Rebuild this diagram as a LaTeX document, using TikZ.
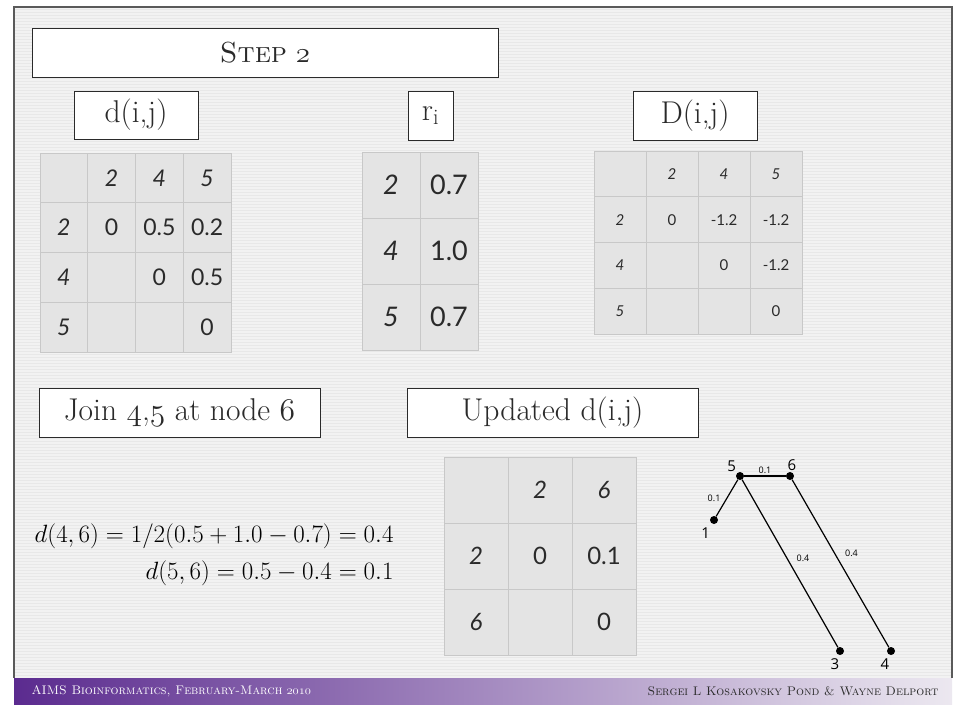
\RequirePackage{fix-cm}
\documentclass[tikz,border=0pt]{standalone}
\usepackage{fontspec}
\newfontfamily\tabfont{Lato}
\newfontfamily\treefont{Open Sans}
\usetikzlibrary{positioning}

\definecolor{slidebg}{HTML}{F2F2F2}
\definecolor{stripe}{HTML}{E8E8E8}
\definecolor{cellfill}{HTML}{E4E4E4}
\definecolor{cellline}{HTML}{C8C8C8}
\definecolor{inkgray}{HTML}{2A2A2A}
\definecolor{framegray}{HTML}{5A5A5A}
\definecolor{bandpurple}{HTML}{5B2B8F}
\definecolor{bandmid}{HTML}{B9A3CF}
\definecolor{bandlight}{HTML}{ECE8F0}

% old-style digits from the math italic font
\newcommand\osf[1]{$\mathnormal{#1}$}

\tikzset{
  titlebox/.style={draw=inkgray, fill=white, line width=1pt, inner sep=0pt,
    text=inkgray, font=\fontsize{31.5}{36}\selectfont},
  cell/.style={draw=cellline, fill=cellfill, line width=1pt, inner sep=0pt},
  celltxt/.style={text=inkgray, inner sep=0pt},
  leaf/.style={circle, fill=black, inner sep=0pt, minimum size=8pt},
  edge/.style={line width=1.2pt},
  treelab/.style={font=\treefont\fontsize{15}{15}\selectfont, inner sep=1pt},
  elab/.style={font=\treefont\fontsize{9}{9}\selectfont, inner sep=1pt},
}

\begin{document}
\begin{tikzpicture}[x=1pt, y=-1pt]
  \useasboundingbox (0,0) rectangle (957,704);
  % slide background
  \fill[white] (0,0) rectangle (957,704);
  \fill[slidebg] (14,7) rectangle (952,678);
  \foreach \y in {9,12,...,677}
    \draw[stripe, line width=1pt] (15,\y) -- (951,\y);
  \draw[framegray, line width=1.5pt] (14,678) -- (14,7) -- (952,7) -- (952,678);
  \shade[left color=bandpurple, middle color=bandmid, right color=bandlight]
    (14,678) rectangle (952,704);
  \node[anchor=west, text=white, font=\fontsize{12.5}{14}\selectfont] (foot-l) at (28,691)
    {\textsc{AIMS Bioinformatics, February-March} \osf{2010}};
  \node[anchor=east, text=inkgray, font=\fontsize{12.5}{14}\selectfont] (foot-r) at (942,691)
    {\textsc{Sergei L Kosakovsky Pond \& Wayne Delport}};

  % title boxes
  \node[titlebox, minimum width=466pt, minimum height=49pt, font=\fontsize{29}{34}\selectfont] (step) at (265,52.5) {\textsc{Step} \osf{2}};
  \node[titlebox, minimum width=124pt, minimum height=48pt] (dij) at (136,115) {d(i,j)};
  \node[titlebox, minimum width=45pt, minimum height=49pt] (ri) at (430.5,115.5) {r\textsubscript{i}};
  \node[titlebox, minimum width=124pt, minimum height=49pt] (Dij) at (695,115.5) {D(i,j)};
  \node[titlebox, minimum width=281pt, minimum height=49pt] (join) at (179.5,412.5) {Join \osf{4},\osf{5} at node \osf{6}};
  \node[titlebox, minimum width=291pt, minimum height=49pt] (upd) at (552.5,412.5) {Updated d(i,j)};

  % d(i,j) table
  \foreach \r in {0,...,3}
    \foreach \c in {0,...,3}
      \node[cell, minimum width=47.75pt, minimum height=49.75pt] (d\r\c)
        at ({40+47.75*(\c+.5)},{153+49.75*(\r+.5)}) {};
  \foreach \r/\c/\v in {0/1/\textit{2}, 0/2/\textit{4}, 0/3/\textit{5},
      1/0/\textit{2}, 1/1/0, 1/2/0.5, 1/3/0.2,
      2/0/\textit{4}, 2/2/0, 2/3/0.5,
      3/0/\textit{5}, 3/3/0}
    \node[celltxt, font=\tabfont\fontsize{23}{23}\selectfont] at (d\r\c) {\v};

  % r_i table
  \foreach \r in {0,...,2}
    \foreach \c in {0,1}
      \node[cell, minimum width=58pt, minimum height=66pt] (r\r\c)
        at ({362+58*(\c+.5)},{152+66*(\r+.5)}) {};
  \foreach \r/\c/\v in {0/0/\textit{2}, 0/1/0.7, 1/0/\textit{4}, 1/1/1.0, 2/0/\textit{5}, 2/1/0.7}
    \node[celltxt, font=\tabfont\fontsize{27}{27}\selectfont] at (r\r\c) {\v};

  % D(i,j) table
  \foreach \r in {0,...,3}
    \foreach \c in {0,...,3}
      \node[cell, minimum width=52pt, minimum height=45.75pt] (D\r\c)
        at ({594+52*(\c+.5)},{151+45.75*(\r+.5)}) {};
  \foreach \r/\c/\v in {0/1/\textit{2}, 0/2/\textit{4}, 0/3/\textit{5},
      1/0/\textit{2}, 1/1/0, 1/2/-1.2, 1/3/-1.2,
      2/0/\textit{4}, 2/2/0, 2/3/-1.2,
      3/0/\textit{5}, 3/3/0}
    \node[celltxt, font=\tabfont\fontsize{15}{15}\selectfont] at (D\r\c) {\v};

  % updated d(i,j) table
  \foreach \r in {0,...,2}
    \foreach \c in {0,...,2}
      \node[cell, minimum width=64pt, minimum height=66pt] (u\r\c)
        at ({444+64*(\c+.5)},{457+66*(\r+.5)}) {};
  \foreach \r/\c/\v in {0/1/\textit{2}, 0/2/\textit{6},
      1/0/\textit{2}, 1/1/0, 1/2/0.1,
      2/0/\textit{6}, 2/2/0}
    \node[celltxt, font=\tabfont\fontsize{24}{24}\selectfont] at (u\r\c) {\v};

  % branch lengths
  \node[anchor=east, align=right, font=\fontsize{25}{37}\selectfont] (eqs) at (397,555)
    {$d(4,6)=1/2(0.5+1.0-0.7)=0.4$\\$d(5,6)=0.5-0.4=0.1$};

  % tree
  \node[leaf, label={[treelab, yshift=-4pt]below left:1}] (n1) at (714,520) {};
  \node[leaf, label={[treelab]above left:5}] (n5) at (740,476) {};
  \node[leaf, label={[treelab, xshift=2pt]above:6}] (n6) at (790,476) {};
  \node[leaf, label={[treelab, xshift=-5pt, yshift=-2pt]below:3}] (n3) at (840,651) {};
  \node[leaf, label={[treelab, xshift=-6pt, yshift=-2pt]below:4}] (n4) at (891,651) {};
  \draw[edge] (n1) -- node[elab, left=5pt] {0.1} (n5);
  \draw[edge] (n5) -- node[elab, above=1pt] {0.1} (n6);
  \draw[edge] (n5) -- node[elab, above right=0pt and 5pt] {0.4} (n3);
  \draw[edge] (n6) -- node[elab, above right=5pt and 3pt] {0.4} (n4);
\end{tikzpicture}
\end{document}
